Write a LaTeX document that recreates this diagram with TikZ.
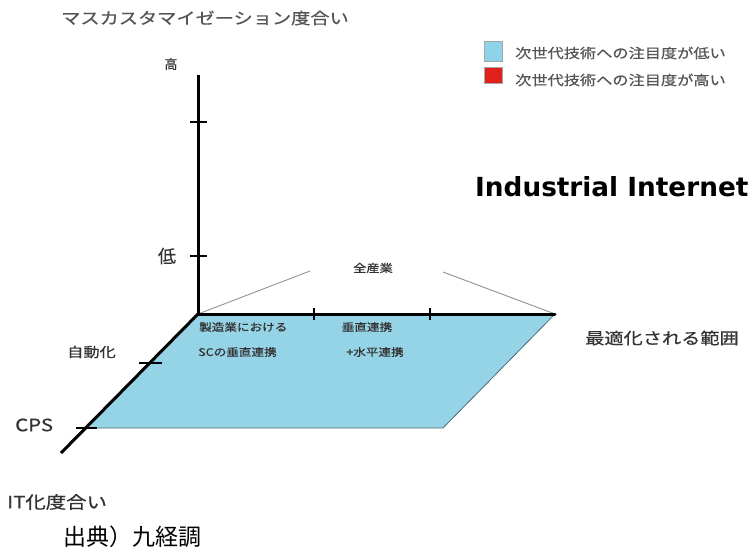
\documentclass[tikz,border=0pt]{standalone}
\usepackage{fontspec}
\usepackage{graphicx}
\setmainfont[FakeBold=0.6]{Noto Sans CJK JP}
\newfontfamily\jpplain{Noto Sans CJK JP}
\newfontfamily\dvsans{DejaVu Sans}
\newcommand\hstr[1]{\scalebox{1.2}[1]{#1}}
\newcommand\fsz[1]{\fontsize{#1}{#1}\selectfont}
\definecolor{planeblue}{HTML}{95D3E6}
\definecolor{legblue}{HTML}{8FD3EA}
\definecolor{legred}{HTML}{E0201B}
\definecolor{txtgray}{HTML}{333333}
\definecolor{lightgray}{HTML}{555555}
\definecolor{edgegray}{HTML}{4F6B74}
\tikzset{
  axisline/.style={line width=3pt, black},
  axtick/.style={line width=2pt, black},
  guide/.style={line width=0.9pt, gray!85},
  lbl/.style={inner sep=0pt, text=txtgray},
  legbox/.style={draw=gray!70, line width=0.8pt, minimum width=18pt, inner sep=0pt}
}
\begin{document}
\begin{tikzpicture}[x=1pt,y=-1pt]
\useasboundingbox (0,0) rectangle (753,551);
% key points
\coordinate (O) at (198,314);
\coordinate (Vtop) at (198,75);
\coordinate (Hend) at (555,314);
\coordinate (Dend) at (61,453);
\coordinate (PlBR) at (443,428);
\coordinate (PlBL) at (86,428);
\coordinate (V1) at (198,122);
\coordinate (V2) at (198,256);
\coordinate (H1) at (314,314);
\coordinate (H2) at (430,314);
\coordinate (D1) at (150,363);
\coordinate (D2) at (86,428);
\coordinate (G1) at (310,271);
\coordinate (G2) at (443,272);
% plane
\fill[planeblue] (O) -- (Hend) -- (PlBR) -- (PlBL) -- cycle;
\draw[edgegray, line width=0.8pt] (Hend) -- (PlBR) -- (PlBL);
% guide lines (全産業)
\draw[guide] (O) -- (G1);
\draw[guide] (G2) -- (Hend);
% axes
\draw[axisline] (Vtop) -- (O);
\draw[axisline, line cap=round] (O) -- (Hend);
\draw[axisline] (Dend) -- (O);
% ticks
\draw[axtick] ([xshift=-8pt]V1) -- ([xshift=9pt]V1);
\draw[axtick] ([xshift=-8pt]V2) -- ([xshift=9pt]V2);
\draw[axtick] ([yshift=-6pt]H1) -- ([yshift=6pt]H1);
\draw[axtick] ([yshift=-6pt]H2) -- ([yshift=6pt]H2);
\draw[axtick] ([xshift=-11pt]D1) -- ([xshift=12pt]D1);
\draw[axtick] ([xshift=-10pt]D2) -- ([xshift=11pt]D2);
% labels
\node[lbl, text=lightgray] (title) at (205,18) {\fsz{16}\hstr{マスカスタマイゼーション度合い}};
\node[lbl] (hi) at (171,64) {\fsz{13}高};
\node[lbl] (lo) at (167,256) {\fsz{18}低};
\node[lbl, anchor=west] (auto) at (67,352) {\fsz{13.5}\hstr{自動化}};
\node[lbl, anchor=west] (cps) at (15,425) {\fsz{17}\hstr{CPS}};
\node[lbl, anchor=west] (itdeg) at (7,502) {\fsz{17}\hstr{IT化度合い}};
\node[lbl, anchor=west, text=black] (src) at (63,537) {\jpplain\fsz{23}出典）九経調};
\node[lbl, anchor=west] (range) at (585,338) {\fsz{16}\hstr{最適化される範囲}};
\node[lbl] (allind) at (373,268) {\fsz{11}\hstr{全産業}};
\node[lbl, anchor=west] (p1a) at (199,327) {\fsz{10.5}\hstr{製造業における}};
\node[lbl, anchor=west] (p1b) at (198,352) {\fsz{10.5}\hstr{SCの垂直連携}};
\node[lbl] (p2a) at (367,327) {\fsz{10.5}\hstr{垂直連携}};
\node[lbl] (p2b) at (375,352) {\fsz{10.5}\hstr{+水平連携}};
\node[lbl, anchor=west, text=black] (ii) at (475,187) {\dvsans\bfseries\fsz{26.3}Industrial Internet};
% legend
\node[legbox, fill=legblue, minimum height=20pt] (lb) at (493,51.5) {};
\node[legbox, fill=legred, minimum height=16pt] (lr) at (493,75) {};
\node[lbl, anchor=west, text=lightgray] (lbt) at (515,53) {\fsz{13.5}\hstr{次世代技術への注目度が低い}};
\node[lbl, anchor=west, text=lightgray] (lrt) at (515,80) {\fsz{13.5}\hstr{次世代技術への注目度が高い}};
\end{tikzpicture}
\end{document}
